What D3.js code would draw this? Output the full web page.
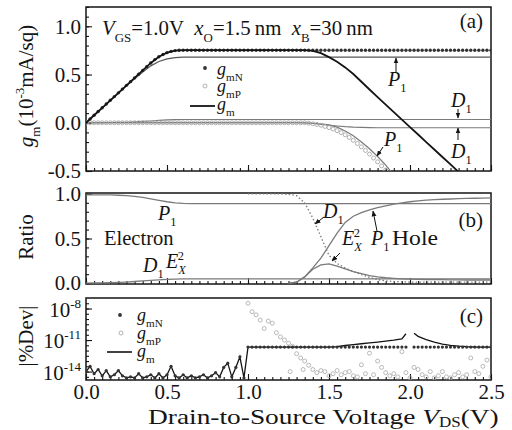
<!DOCTYPE html>
<html><head><meta charset="utf-8">
<script src="https://cdn.jsdelivr.net/npm/d3@7"></script>
<style>
body{margin:0;background:#fff}
svg{display:block;font-family:"Liberation Serif","Times New Roman",serif}
</style></head><body>
<svg id="chart" width="512" height="430"></svg>
<script>
// ---------- DATA ----------
const step05 = 0.05;   // grid for line series
const step025 = 0.025; // grid for marker series

// panel (a): transconductance (10^-3 mA/sq)
const gmLine = [0,0.078,0.155,0.233,0.31,0.388,0.465,0.543,0.62,0.685,0.727,0.748,0.752,
  0.752,0.752,0.752,0.752,0.752,0.752,0.752,0.752,0.752,0.752,0.752,0.752,0.752,0.752,0.752,
  0.745,0.722,0.68,0.632,0.574,0.505,0.425,0.345,0.265,0.188,0.11,0.033,-0.045,-0.122,-0.2,
  -0.277,-0.355,-0.432,-0.51,-0.59,-0.67,-0.75,-0.83];
const gmN = [0,0.039,0.078,0.116,0.155,0.194,0.233,0.271,0.31,0.349,0.388,0.426,0.465,0.504,
  0.543,0.581,0.62,0.655,0.685,0.708,0.727,0.74,0.748,0.751,0.752,
  0.752,0.752,0.752,0.752,0.752,0.752,0.752,0.752,0.752,0.752,
  0.752,0.752,0.752,0.752,0.752,0.752,0.752,0.752,0.752,0.752,
  0.752,0.752,0.752,0.752,0.752,0.752,0.752,0.752,0.752,0.752,
  0.752,0.752,0.752,0.752,0.752,0.752,0.752,0.752,0.752,0.752,
  0.752,0.752,0.752,0.752,0.752,0.752,0.752,0.752,0.752,0.752,
  0.752,0.752,0.752,0.752,0.752,0.752,0.752,0.752,0.752,0.752,
  0.752,0.752,0.752,0.752,0.752,0.752,0.752,0.752,0.752,0.752,
  0.752,0.752,0.752,0.752,0.752,0.752];
const gmP = [0,0,0,0,0,0,0,0,0,0,0,0,0,0,0,0,0,0,0,0,0,0,0,0,0,0,0,0,0,0,
  0,0,0,0,0,0,0,0,0,0,0,0,0,0,0,0,0,0,0,0,0,0,0,0,0,
  -0.004,-0.01,-0.017,-0.026,-0.038,-0.05,-0.065,-0.082,-0.102,-0.125,-0.152,-0.182,
  -0.215,-0.25,-0.287,-0.325,-0.365,-0.405,-0.447,-0.49];
const eP1a = [0,0.077,0.153,0.23,0.306,0.382,0.455,0.525,0.59,0.635,0.662,0.675,0.68,
  0.68,0.68,0.68,0.68,0.68,0.68,0.68,0.68,0.68,0.68,0.68,0.68,0.68,0.68,0.68,0.68,
  0.68,0.68,0.68,0.68,0.68,0.68,0.68,0.68,0.68,0.68,0.68,0.68,0.68,0.68,0.68,0.68,
  0.68,0.68,0.68,0.68,0.68,0.68];
const eD1a = [0,0,0.001,0.002,0.004,0.006,0.01,0.014,0.019,0.025,0.03,0.033,0.034,
  0.034,0.034,0.034,0.034,0.034,0.034,0.034,0.034,0.034,0.034,0.034,0.034,0.034,0.034,
  0.034,0.034,0.034,0.034,0.034,0.034,0.034,0.034,0.034,0.034,0.034,0.034,0.034,0.034,
  0.034,0.034,0.034,0.034,0.034,0.034,0.034,0.034,0.034,0.034];
const hP1a = [0,0,0,0,0,0,0,0,0,0,0,0,0,0,0,0,0,0,0,0,0,0,0,0,0,0,0,0,
  -0.005,-0.012,-0.022,-0.045,-0.085,-0.135,-0.2,-0.27,-0.35,-0.44,-0.54];
const hD1a = [0,0,0,0,0,0,0,0,0,0,0,0,0,0,0,0,0,0,0,0,0,0,0,0,0,0,0,
  -0.002,-0.008,-0.016,-0.025,-0.033,-0.04,-0.045,-0.048,-0.05,-0.051,
  -0.052,-0.052,-0.052,-0.052,-0.052,-0.052,-0.052,-0.052,-0.052,-0.052,-0.052,-0.052,-0.052,-0.052];

// panel (b): ratios
const eP1b = [0.99,0.99,0.99,0.988,0.985,0.98,0.972,0.96,0.945,0.928,0.912,0.9,0.894,0.892,
  0.89,0.89,0.89,0.89,0.89,0.89,0.89,0.89,0.89,0.89,0.89,0.89,0.89,0.89,0.89,0.89,
  0.89,0.89,0.89,0.89,0.89,0.89,0.89,0.89,0.89,0.89,0.89,0.89,0.89,0.89,0.89,0.89,
  0.89,0.89,0.89,0.89,0.89];
const eD1b = [0,0.001,0.002,0.004,0.008,0.012,0.018,0.024,0.03,0.036,0.041,0.045,0.047,0.048,
  0.048,0.048,0.048,0.048,0.048,0.048,0.048,0.048,0.048,0.048,0.048,0.048,0.048,0.048,0.048,
  0.048,0.048,0.048,0.048,0.048,0.048,0.048,0.048,0.048,0.048,0.048,0.048,0.048,0.048,0.048,
  0.048,0.048,0.048,0.048,0.048,0.048,0.048];
const hD1bStart = 1.0;
const hD1b = [1.0,1.0,1.0,1.0,1.0,0.995,0.98,0.9,0.73,0.52,0.31,0.22,0.17,0.13,0.095,0.065,
  0.04,0.025,0.018,0.014,0.012,0.01,0.01,0.01,0.01,0.01,0.01,0.01,0.01,0.01,0.01];
const hBStart = 1.25;
const hP1b = [0,0.01,0.07,0.17,0.28,0.42,0.56,0.68,0.75,0.79,0.82,0.845,0.865,0.885,0.9,
  0.912,0.922,0.93,0.935,0.94,0.943,0.946,0.949,0.951,0.953,0.955];
const hEXb = [0,0.01,0.07,0.155,0.205,0.215,0.19,0.16,0.13,0.105,0.085,0.07,0.06,0.053,
  0.048,0.045,0.042,0.04,0.039,0.038,0.037,0.036,0.035,0.035,0.035,0.035];

// panel (c): log10 |%Dev|
const devN = [-14.0,-13.5,-14.2,-13.8,-14.4,-13.9,-14.5,-14.3,-13.9,-14.4,-14.6,-14.5,-14.6,-14.2,
  -14.6,-14.5,-14.3,-14.6,-14.2,-14.6,-14.3,-13.5,-14.4,-14.6,-14.3,-14.6,-14.4,-14.6,-14.5,
  -14.3,-14.6,-14.4,-14.1,-14.5,-13.6,-13.2,-14.5,-13.6,-12.6,-14.6,-11.67,
  -11.67,-11.67,-11.67,-11.67,-11.67,-11.67,-11.67,-11.67,-11.67,-11.67,
  -11.67,-11.67,-11.67,-11.67,-11.67,-11.67,-11.67,-11.67,-11.67,-11.67,
  -11.67,-11.67,-11.67,-11.67,-11.67,-11.67,-11.67,-11.67,-11.67,-11.67,
  -11.67,-11.67,-11.67,-11.67,-11.67,-11.67,-11.67,-11.67,-11.67,null,
  -11.67,-11.67,-11.67,-11.67,-11.67,-11.67,-11.67,-11.67,-11.67,-11.67,
  -11.67,-11.67,-11.67,-11.67,-11.67,-11.67,-11.67,-11.67,-11.67,-11.67];
const devMV = [1.0,1.5,1.55,1.6,1.65,1.7,1.75,1.8,1.85,1.9,1.95,1.975,2.0,2.025,2.05,2.1,2.15,
  2.2,2.25,2.3,2.35,2.4,2.45,2.5];
const devMLog = [-11.67,-11.67,-11.62,-11.52,-11.43,-11.35,-11.27,-11.19,-11.1,-11.0,-10.88,
  -10.4,null,-10.35,-10.65,-10.95,-11.2,-11.38,-11.5,-11.58,-11.63,-11.66,-11.67,-11.67];
const devPV = [1.0,1.025,1.05,1.075,1.1,1.125,1.15,1.175,1.2,1.225,1.25,1.26,1.275,1.3,1.325,
  1.34,1.35,1.375,1.4,1.425,1.45,1.475,1.5,1.525,1.55,1.575,1.6,1.625,1.65,1.675,1.7,1.725,
  1.75,1.775,1.8,1.825,1.85,1.875,1.9,1.925,1.95,1.975,2.0,2.025,2.05,2.075,2.1,2.125,2.15,
  2.175,2.2,2.225,2.25,2.275,2.3,2.325,2.35,2.375,2.4,2.425,2.45,2.475,2.5];
const devPLog = [-7.5,-8.3,-8.6,-9.1,-9.9,-9.2,-9.4,-10.3,-10.7,-11.0,-11.3,-14.0,-11.6,-12.3,
  -12.7,-13.8,-13.0,-13.4,-13.8,-14.1,-13.9,-14.0,-14.4,-14.2,-13.9,-14.3,-14.1,-14.0,-14.4,
  -14.5,-13.35,-14.2,-12.25,-14.3,-13.0,-13.6,-14.1,-14.4,-14.2,-14.5,-12.1,-14.1,-14.6,-13.6,
  -13.8,-14.3,-14.5,-14.0,-14.6,-14.4,-14.0,-14.5,-14.6,-14.3,-14.1,-14.5,-14.3,-12.7,-14.0,
  -14.2,-13.5,-12.9,-14.5];

const xTickLabels = ["0.0","0.5","1.0","1.5","2.0","2.5"];

// ---------- DRAWING ----------
const svg = d3.select("#chart");
const BLACK = "#141414", DGRAY = "#555", GRAY = "#7a7a7a", LGRAY = "#a8a8a8";
const FS = 20;
const L = 86, R = 491;
const x = d3.scaleLinear().domain([0, 2.5]).range([L, R]);
const ya = d3.scaleLinear().domain([-0.5, 1.2]).range([171, 7]);
const yb = d3.scaleLinear().domain([-0.01, 1.01]).range([284, 193]);
const yc = d3.scaleLog().domain([Math.pow(10, -14.8), 1e-7]).range([380, 298]);

const defs = svg.append("defs");
function clip(id, top, bottom){
  defs.append("clipPath").attr("id", id).append("rect")
    .attr("x", L).attr("y", top).attr("width", R - L).attr("height", bottom - top);
}
clip("ca", 7, 171); clip("cb", 193, 284); clip("cc", 298, 380);
defs.append("marker").attr("id","arr").attr("viewBox","0 0 10 10").attr("refX",9).attr("refY",5)
  .attr("markerWidth",6).attr("markerHeight",6).attr("orient","auto-start-reverse")
  .append("path").attr("d","M0,1 L10,5 L0,9 z").attr("fill",BLACK);

function series(arr, step, start){ return arr.map((v,i)=>({v: start + i*step, y: v})); }

function frame(y, top, bottom, yMajor, yMinor, yFmt, showX){
  const minorX = d3.range(0, 2.5001, 0.05);
  const majorX = [0,0.5,1,1.5,2,2.5];
  svg.append("g").attr("transform",`translate(0,${bottom})`)
    .call(d3.axisBottom(x).tickValues(minorX).tickSize(-3).tickFormat(""))
    .call(g=>g.select(".domain").remove());
  const gM = svg.append("g").attr("transform",`translate(0,${bottom})`)
    .call(d3.axisBottom(x).tickValues(majorX).tickSize(-6).tickPadding(4)
      .tickFormat((d,i)=> showX ? xTickLabels[i] : ""))
    .call(g=>g.select(".domain").remove());
  gM.selectAll("text").attr("font-size",21).attr("fill",BLACK).attr("font-family","Liberation Serif");
  svg.append("g").attr("transform",`translate(${L},0)`)
    .call(d3.axisLeft(y).tickValues(yMinor).tickSize(-3).tickFormat(""))
    .call(g=>g.select(".domain").remove());
  const gy = svg.append("g").attr("transform",`translate(${L},0)`)
    .call(d3.axisLeft(y).tickValues(yMajor).tickSize(-6).tickPadding(5).tickFormat(yFmt))
    .call(g=>g.select(".domain").remove());
  gy.selectAll("text").attr("font-size",21).attr("fill",BLACK).attr("font-family","Liberation Serif");
  svg.selectAll(".tick line").attr("stroke",BLACK).attr("stroke-width",1.1);
  svg.append("rect").attr("x",L).attr("y",top).attr("width",R-L).attr("height",bottom-top)
    .attr("fill","none").attr("stroke",BLACK).attr("stroke-width",1.5);
  return gy;
}

function rich(parent, px, py, parts, size, anchor, transform, subOff){
  const t = parent.append("text").attr("x",px).attr("y",py).attr("font-size",size)
    .attr("fill",BLACK).attr("text-anchor",anchor||"start");
  if (transform) t.attr("transform",transform);
  let cur = 0;
  const so = subOff || 0.32;
  parts.forEach(p=>{
    const ts = t.append("tspan").text(p.t);
    const off = p.sub ? so : p.sup ? -0.42 : 0;
    const dy = (off - cur) * size;
    if (dy) ts.attr("dy", dy);
    cur = off;
    if (p.sub || p.sup) ts.attr("font-size", size*0.62);
    if (p.i) ts.attr("font-style","italic");
    if (p.dx) ts.attr("dx", p.dx);
  });
  return t;
}
// place a text at x0 and stretch it horizontally to the target width
function fit(t, x0, width){
  const w = t.node().getBBox().width;
  t.attr("transform", `translate(${x0},0) scale(${width / w},1)`);
  return t;
}
function arrow(x1,y1,x2,y2){
  svg.append("line").attr("x1",x1).attr("y1",y1).attr("x2",x2).attr("y2",y2)
    .attr("stroke",BLACK).attr("stroke-width",1).attr("marker-end","url(#arr)");
}
function drawLine(g, data, y, color, width, dash){
  const p = g.append("path").datum(data)
    .attr("d", d3.line().defined(d=>d.y!==null).x(d=>x(d.v)).y(d=>y(d.y)))
    .attr("fill","none").attr("stroke",color).attr("stroke-width",width);
  if (dash) p.attr("stroke-dasharray",dash);
}

// ----- panel (a)
frame(ya, 7, 171, [-0.5,0,0.5,1.0], d3.range(-0.5,1.2001,0.1).map(d=>+d.toFixed(2)),
  d=>d.toFixed(1), false);
const ga = svg.append("g").attr("clip-path","url(#ca)");
drawLine(ga, series(eD1a, step05, 0), ya, GRAY, 1.1);
drawLine(ga, series(hD1a, step05, 0), ya, GRAY, 1.1);
drawLine(ga, series(hP1a, step05, 0), ya, GRAY, 1.2);
ga.selectAll("circle.p").data(series(gmP, step025, 0)).enter().append("circle")
  .attr("cx",d=>x(d.v)).attr("cy",d=>ya(d.y)).attr("r",2)
  .attr("fill","none").attr("stroke",LGRAY).attr("stroke-width",0.9);
drawLine(ga, series(eP1a, step05, 0), ya, DGRAY, 1.2);
ga.selectAll("circle.n").data(series(gmN, step025, 0)).enter().append("circle")
  .attr("cx",d=>x(d.v)).attr("cy",d=>ya(d.y)).attr("r",1.7).attr("fill","#333");
drawLine(ga, series(gmLine, step05, 0), ya, BLACK, 1.8);

fit(rich(svg, 0, 35, [{t:"V",i:1},{t:"GS",sub:1},{t:"=1.0V\u00a0\u00a0"},{t:"x",i:1},{t:"O",sub:1},
  {t:"=1.5\u2009nm\u00a0\u00a0"},{t:"x",i:1},{t:"B",sub:1},{t:"=30\u2009nm"}], 21), 102, 271);
svg.append("text").attr("x",483).attr("y",28).attr("text-anchor","end").attr("font-size",21)
  .attr("fill",BLACK).text("(a)");
// legend (a)
svg.append("circle").attr("cx",205).attr("cy",68).attr("r",1.9).attr("fill","#333");
rich(svg, 217, 75, [{t:"g",i:1},{t:"mN",sub:1}], 18);
svg.append("circle").attr("cx",205).attr("cy",86).attr("r",2).attr("fill","none")
  .attr("stroke",LGRAY).attr("stroke-width",0.9);
rich(svg, 217, 92, [{t:"g",i:1},{t:"mP",sub:1}], 18);
svg.append("line").attr("x1",190).attr("x2",215).attr("y1",106).attr("y2",106)
  .attr("stroke",BLACK).attr("stroke-width",1.8);
rich(svg, 217, 110, [{t:"g",i:1},{t:"m",sub:1}], 18);
// annotations (a)
arrow(396,72,396,58);
rich(svg, 388, 86, [{t:"P",i:1},{t:"1",sub:1}], FS);
arrow(458,109,458,118);
rich(svg, 451, 107, [{t:"D",i:1},{t:"1",sub:1}], FS);
arrow(458,140,458,128);
rich(svg, 451, 158, [{t:"D",i:1},{t:"1",sub:1}], FS);
arrow(383,147,377,156);
rich(svg, 384, 146, [{t:"P",i:1},{t:"1",sub:1}], FS);
// y label (a)
rich(svg, 0, 0, [{t:"g",i:1},{t:"m",sub:1},{t:"(10"},{t:"-3",sup:1},{t:"mA/sq)"}], 21, "middle",
  "translate(33,86) rotate(-90)");

// ----- panel (b)
frame(yb, 193, 284, [0,0.5,1.0], d3.range(0,1.0001,0.1).map(d=>+d.toFixed(2)),
  d=>d.toFixed(1), false);
const gb = svg.append("g").attr("clip-path","url(#cb)");
drawLine(gb, series(eP1b, step05, 0), yb, GRAY, 1.3);
drawLine(gb, series(eD1b, step05, 0), yb, GRAY, 1.3);
drawLine(gb, series(hD1b, step05, hD1bStart), yb, GRAY, 1.3, "1.5,2.2");
drawLine(gb, series(hP1b, step05, hBStart), yb, GRAY, 1.3);
drawLine(gb, series(hEXb, step05, hBStart), yb, GRAY, 1.3);
rich(svg, 158, 220, [{t:"P",i:1},{t:"1",sub:1}], FS);
fit(svg.append("text").attr("x",0).attr("y",245).attr("font-size",21).attr("fill",BLACK).text("Electron"), 104, 70);
rich(svg, 143, 272, [{t:"D",i:1},{t:"1",sub:1}], FS);
rich(svg, 166, 268, [{t:"E",i:1},{t:"X",sub:1,i:1},{t:"2",sup:1,dx:-8}], FS);
rich(svg, 323, 218, [{t:"D",i:1},{t:"1",sub:1}], FS);
arrow(324,217,315,224);
rich(svg, 342, 245, [{t:"E",i:1},{t:"X",sub:1,i:1},{t:"2",sup:1,dx:-8}], FS);
arrow(340,253,332,261);
rich(svg, 371, 245, [{t:"P",i:1},{t:"1",sub:1}], FS);
arrow(377,231,373,211);
fit(svg.append("text").attr("x",0).attr("y",245).attr("font-size",21).attr("fill",BLACK).text("Hole"), 392, 46);
svg.append("text").attr("x",483).attr("y",227).attr("text-anchor","end").attr("font-size",21)
  .attr("fill",BLACK).text("(b)");
svg.append("text").attr("transform","translate(33,237) rotate(-90)").attr("text-anchor","middle")
  .attr("font-size",21).attr("fill",BLACK).text("Ratio");

// ----- panel (c)
const cMinor = d3.range(-14.5,-7.0001,0.5).map(e=>Math.pow(10,e));
frame(yc, 298, 380, [1e-14,1e-11,1e-8], cMinor, ()=> "", true);
[[1e-8,"-8"],[1e-11,"-11"],[1e-14,"-14"]].forEach(([v,e])=>{
  rich(svg, 81, yc(v)+8, [{t:"10"},{t:e,sup:1}], 21, "end");
});
const gc = svg.append("g").attr("clip-path","url(#cc)");
gc.selectAll("circle.pd").data(devPV.map((v,i)=>({v, y: devPLog[i]}))).enter().append("circle")
  .attr("cx",d=>x(d.v)).attr("cy",d=>yc(Math.pow(10,d.y))).attr("r",2)
  .attr("fill","none").attr("stroke",LGRAY).attr("stroke-width",0.8);
const nPts = devN.map((l,i)=>({v: i*step025, y: l===null?null:Math.pow(10,l)}));
const mPts = nPts.filter(d=>d.v<=1.0001).concat(
  devMV.map((v,i)=>({v, y: devMLog[i]===null?null:Math.pow(10,devMLog[i])})).slice(1));
drawLine(gc, mPts, yc, BLACK, 1.3);
gc.selectAll("circle.nd").data(nPts.filter(d=>d.y!==null)).enter().append("circle")
  .attr("cx",d=>x(d.v)).attr("cy",d=>yc(d.y)).attr("r",1.6).attr("fill","#333");
svg.append("text").attr("x",483).attr("y",323).attr("text-anchor","end").attr("font-size",21)
  .attr("fill",BLACK).text("(c)");
svg.append("circle").attr("cx",120).attr("cy",315).attr("r",1.9).attr("fill","#333");
rich(svg, 137, 321, [{t:"g",i:1},{t:"mN",sub:1}], 18);
svg.append("circle").attr("cx",121).attr("cy",333).attr("r",2).attr("fill","none")
  .attr("stroke",LGRAY).attr("stroke-width",0.9);
rich(svg, 137, 339, [{t:"g",i:1},{t:"mP",sub:1}], 18);
svg.append("line").attr("x1",107).attr("x2",132).attr("y1",352).attr("y2",352)
  .attr("stroke",BLACK).attr("stroke-width",1.6);
rich(svg, 137, 357, [{t:"g",i:1},{t:"m",sub:1}], 18);
svg.append("text").attr("transform","translate(33,336) rotate(-90)").attr("text-anchor","middle")
  .attr("font-size",21).attr("fill",BLACK).text("|%Dev|");

// x axis title
fit(rich(svg, 0, 424, [{t:"Drain-to-Source Voltage "},{t:"V",i:1},{t:"DS",sub:1},{t:"(V)"}], 22,
  null, null, 0.15), 148, 351);
</script></body></html>
